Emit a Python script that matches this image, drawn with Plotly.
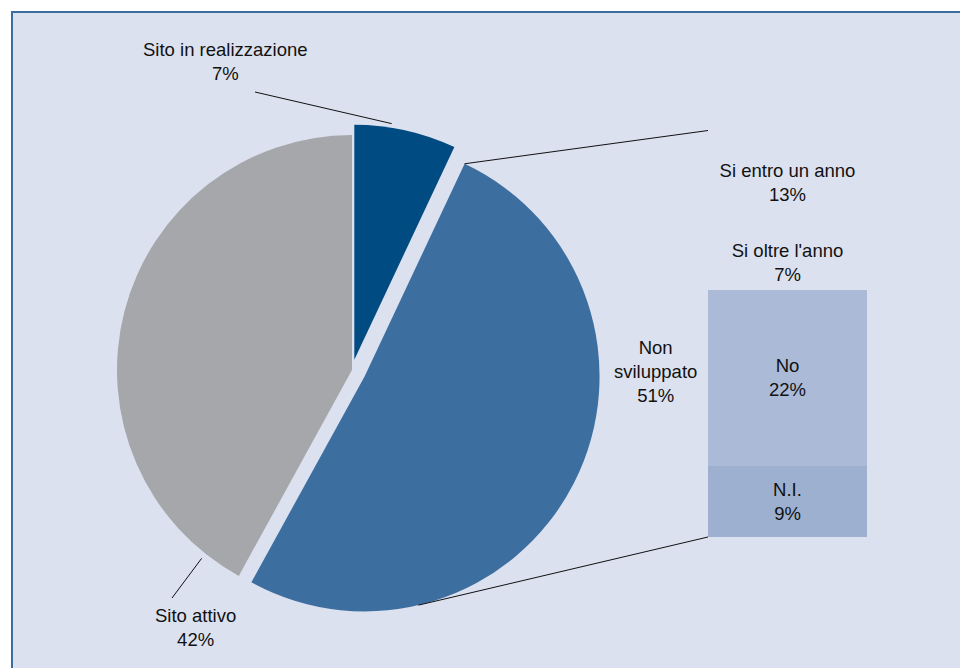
import math
import plotly.graph_objects as go

# Main pie: state of the company website
pie_labels = ["Sito in realizzazione", "Non sviluppato", "Sito attivo"]
pie_values = [7, 51, 42]
pie_colors = ["#004B82", "#3D6EA0", "#A6A7AB"]

# Breakdown of "Non sviluppato" (stacked from the bottom)
bar_labels = ["N.I.", "No", "Si oltre l'anno", "Si entro un anno"]
bar_values = [9, 22, 7, 13]
bar_colors = ["#9DB0D0", "#AABAD7", "rgba(0,0,0,0)", "rgba(0,0,0,0)"]

W, H = 960, 668
BG = "#DCE1EF"
FRAME = "#3B6EA0"
FONT = "Liberation Sans, Arial, sans-serif"
FS = 18.5

# ---- pie geometry (pixels) ----
R = 235
CX, CY = 352, 370
pulls = [0.045, 0.06, 0.0]
half = R * (1 + max(pulls))


def px(x):
    return x / W


def py(y):
    return 1 - y / H


total = sum(pie_values)
angles = []
a = 0.0
for v in pie_values:
    span = 360.0 * v / total
    angles.append((a, a + span))
    a += span


def slice_center(i):
    a0, a1 = angles[i]
    mid = math.radians((a0 + a1) / 2)
    off = pulls[i] * R
    return CX + off * math.sin(mid), CY - off * math.cos(mid)


def arc_point(i, ang, r):
    cx, cy = slice_center(i)
    t = math.radians(ang)
    return cx + r * math.sin(t), cy - r * math.cos(t)


# ---- bar geometry (pixels) ----
BAR_L, BAR_R = 708, 867
BAR_B = 537
PX_PER_PT = 7.97
bar_total = sum(bar_values)
BAR_T = BAR_B - bar_total * PX_PER_PT

fig = go.Figure()

fig.add_trace(go.Pie(
    labels=pie_labels,
    values=pie_values,
    sort=False,
    direction="clockwise",
    rotation=0,
    pull=pulls,
    marker=dict(colors=pie_colors, line=dict(width=0)),
    textinfo="none",
    hoverinfo="label+percent",
    showlegend=False,
    domain=dict(x=[px(CX - half), px(CX + half)],
                y=[py(CY + half), py(CY - half)]),
))

for lab, val, col in zip(bar_labels, bar_values, bar_colors):
    fig.add_trace(go.Bar(
        x=[0], y=[val], width=1,
        marker=dict(color=col, line=dict(width=0)),
        text=[f"{lab}<br>{val}%"],
        textposition="inside",
        insidetextanchor="middle",
        textangle=0,
        textfont=dict(family=FONT, size=FS, color="#111111"),
        showlegend=False,
        hoverinfo="skip",
    ))

# ---- connector lines from the "Non sviluppato" slice to the bar ----
mcx, mcy = slice_center(1)


def tangent_angle(p, upper):
    dx, dy = p[0] - mcx, p[1] - mcy
    d = math.hypot(dx, dy)
    dir_ang = math.degrees(math.atan2(dx, -dy))
    delta = math.degrees(math.acos(R / d))
    return dir_ang - delta if upper else dir_ang + delta


a0, a1 = angles[1]
top_corner = (BAR_L, BAR_T)
bot_corner = (BAR_L, BAR_B)
t_up = min(max(tangent_angle(top_corner, True), a0), a1)
t_lo = min(max(tangent_angle(bot_corner, False), a0), a1)
p_up = arc_point(1, t_up, R)
p_lo = arc_point(1, t_lo, R)

shapes = [
    # white strips outside the framed panel, then its top and left border
    dict(type="rect", xref="paper", yref="paper",
         x0=0, x1=1, y0=py(11), y1=1,
         fillcolor="white", line=dict(width=0), layer="below"),
    dict(type="rect", xref="paper", yref="paper",
         x0=0, x1=px(11), y0=0, y1=1,
         fillcolor="white", line=dict(width=0), layer="below"),
    dict(type="line", xref="paper", yref="paper",
         x0=px(11), x1=1, y0=py(12), y1=py(12),
         line=dict(color=FRAME, width=2), layer="below"),
    dict(type="line", xref="paper", yref="paper",
         x0=px(12), x1=px(12), y0=0, y1=py(11),
         line=dict(color=FRAME, width=2), layer="below"),
    dict(type="line", xref="paper", yref="paper",
         x0=px(p_up[0]), y0=py(p_up[1]), x1=px(top_corner[0]), y1=py(top_corner[1]),
         line=dict(color="#111111", width=1)),
    dict(type="line", xref="paper", yref="paper",
         x0=px(p_lo[0]), y0=py(p_lo[1]), x1=px(bot_corner[0]), y1=py(bot_corner[1]),
         line=dict(color="#111111", width=1)),
]

# ---- leader lines for the pie labels ----
lead_dark = arc_point(0, 9, R + 4)
lead_grey = arc_point(2, 218.6, R + 6)
shapes.append(dict(type="line", xref="paper", yref="paper",
                   x0=px(255), y0=py(92), x1=px(lead_dark[0]), y1=py(lead_dark[1]),
                   line=dict(color="#111111", width=1)))
shapes.append(dict(type="line", xref="paper", yref="paper",
                   x0=px(172), y0=py(598), x1=px(lead_grey[0]), y1=py(lead_grey[1]),
                   line=dict(color="#111111", width=1)))

label_wrap = {"Non sviluppato": "Non<br>sviluppato"}
label_pos = [(225, 61), (655, 372), (195, 627)]
annotations = []
for lab, val, (x, y) in zip(pie_labels, pie_values, label_pos):
    annotations.append(dict(
        x=px(x), y=py(y), xref="paper", yref="paper",
        text=f"{label_wrap.get(lab, lab)}<br>{val}%",
        showarrow=False, xanchor="center", yanchor="middle", align="center",
        font=dict(family=FONT, size=FS, color="#111111"),
    ))

fig.update_layout(
    width=W, height=H,
    margin=dict(l=0, r=0, t=0, b=0),
    paper_bgcolor=BG,
    plot_bgcolor="rgba(0,0,0,0)",
    barmode="stack",
    bargap=0,
    xaxis=dict(domain=[px(BAR_L), px(BAR_R)], range=[-0.5, 0.5],
               visible=False, fixedrange=True),
    yaxis=dict(domain=[py(BAR_B), py(BAR_T)], range=[0, bar_total],
               visible=False, fixedrange=True),
    shapes=shapes,
    annotations=annotations,
    font=dict(family=FONT, size=FS, color="#111111"),
)

fig.write_html("out.html")
